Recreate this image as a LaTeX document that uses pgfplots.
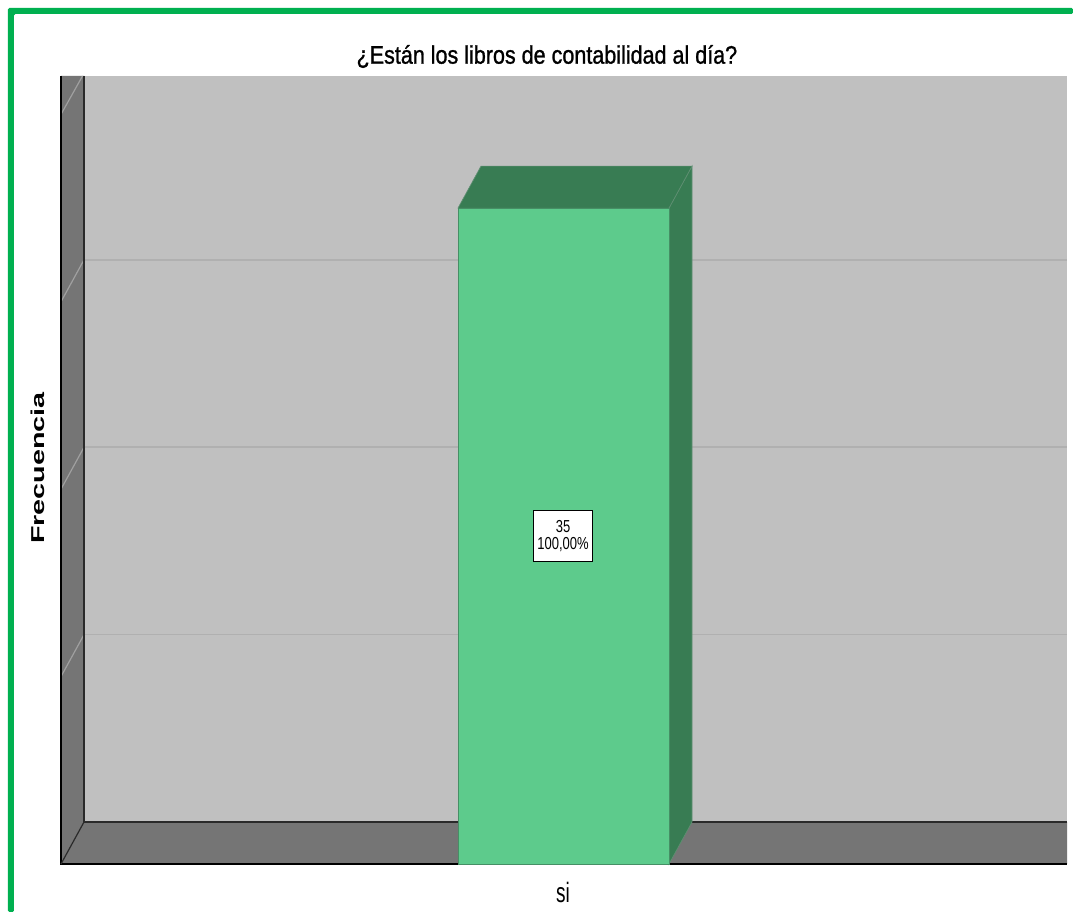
\documentclass[border=0pt]{standalone}
\usepackage{pgfplots}
\pgfplotsset{compat=1.18}
\usepackage{fontspec}
\setmainfont{Liberation Sans}
\newfontface\titlefont{Liberation Sans}[FakeBold=1.2]
\definecolor{frameG}{HTML}{00B050}
\definecolor{wallC}{HTML}{757575}
\definecolor{backC}{HTML}{C0C0C0}
\definecolor{barF}{HTML}{5DCB8C}
\definecolor{barD}{HTML}{387C53}
\definecolor{barE}{HTML}{468F65}
\definecolor{topE}{HTML}{5F8F72}
\definecolor{gridC}{HTML}{B0B0B0}
\definecolor{gridW}{HTML}{A0A0A0}
\definecolor{edgeC}{HTML}{2A2A2A}
\begin{document}
\begin{tikzpicture}[x=1pt,y=1pt]
\path[use as bounding box,fill=white] (-45.75,-36) rectangle (759,648);
\fill[frameG,rounded corners=1pt] (-39.75,-36) -- (-39.75,642) -- (759,642) -- (759,637.5) -- (-35.25,637.5) -- (-35.25,-36) -- cycle;
\begin{axis}[
  at={(0pt,0pt)},anchor=origin,
  scale only axis,width=754.5pt,height=591pt,
  xmin=61,xmax=1067,ymin=0,ymax=42.05,
  clip=false,
  axis line style={draw=none},
  major tick length=0pt,
  xtick={563},xticklabels={\scalebox{0.68}[1]{si}},
  ytick=\empty,
  xticklabel style={font=\fontsize{21}{23}\selectfont,yshift=-10.5pt,
    /pgf/number format/assume math mode=true},
  title={\scalebox{0.85}[1]{\fontsize{19}{21}\titlefont\selectfont ¿Están los libros de contabilidad al día?}},
  title style={at={(rel axis cs:0.483,1.0055)},anchor=base,inner sep=0pt},
  ylabel={\scalebox{1.54}[1]{\fontsize{14}{16}\bfseries\selectfont Frecuencia}},
  ylabel style={at={(rel axis cs:-0.0229,0.5025)},anchor=center,rotate=0,inner sep=0pt},
]
% back plane
\addplot[fill=backC,draw=none,forget plot] coordinates {(84,2.241) (1067,2.241) (1067,42.05) (84,42.05)} --cycle;
% grid on back plane
\addplot[gridC,line width=1.3pt,forget plot] coordinates {(84,12.241) (1067,12.241)};
\addplot[gridC,line width=1.3pt,forget plot] coordinates {(84,22.241) (1067,22.241)};
\addplot[gridC,line width=1.3pt,forget plot] coordinates {(84,32.241) (1067,32.241)};
% wall and floor
\addplot[fill=wallC,draw=none,forget plot] coordinates {(61,0) (84,2.241) (84,42.05) (61,42.05)} --cycle;
\addplot[fill=wallC,draw=none,forget plot] coordinates {(61,0) (1067,0) (1067,2.241) (84,2.241)} --cycle;
% grid on wall
\addplot[gridW,line width=0.9pt,forget plot] coordinates {(61,10) (84,12.241)};
\addplot[gridW,line width=0.9pt,forget plot] coordinates {(61,20) (84,22.241)};
\addplot[gridW,line width=0.9pt,forget plot] coordinates {(61,30) (84,32.241)};
\addplot[gridW,line width=0.9pt,forget plot] coordinates {(61,40) (82.5,42.05)};
% edges
\addplot[edgeC,line width=1.5pt,forget plot] coordinates {(84,42.05) (84,2.241) (1067,2.241)};
\addplot[black,line width=0.8pt,forget plot] coordinates {(61,42.05) (61,0) (1067,0)};
\addplot[edgeC,line width=0.9pt,forget plot] coordinates {(61,0) (84,2.241)};
% bar depth
\addplot[fill=barD,draw=topE,line width=0.5pt,forget plot] coordinates {(669,0) (692,2.241) (692,37.241) (669,35)} --cycle;
\addplot[fill=barD,draw=topE,line width=0.5pt,forget plot] coordinates {(458,35) (669,35) (692,37.241) (481,37.241)} --cycle;
% bar
\addplot[ybar,bar width=211,bar shift=0pt,fill=barF,draw=barE,line width=0.6pt,forget plot] coordinates {(563.5,35)};
\node[draw=black,fill=white,line width=0.8pt,minimum width=44pt,minimum height=38pt,inner sep=0pt,align=center,
  font=\fontsize{13}{14}\selectfont] at (axis cs:563,17.5)
  {\scalebox{0.75}[1]{35}\\[-1pt]\scalebox{0.75}[1]{100,00\%}};
\end{axis}
\end{tikzpicture}
\end{document}
